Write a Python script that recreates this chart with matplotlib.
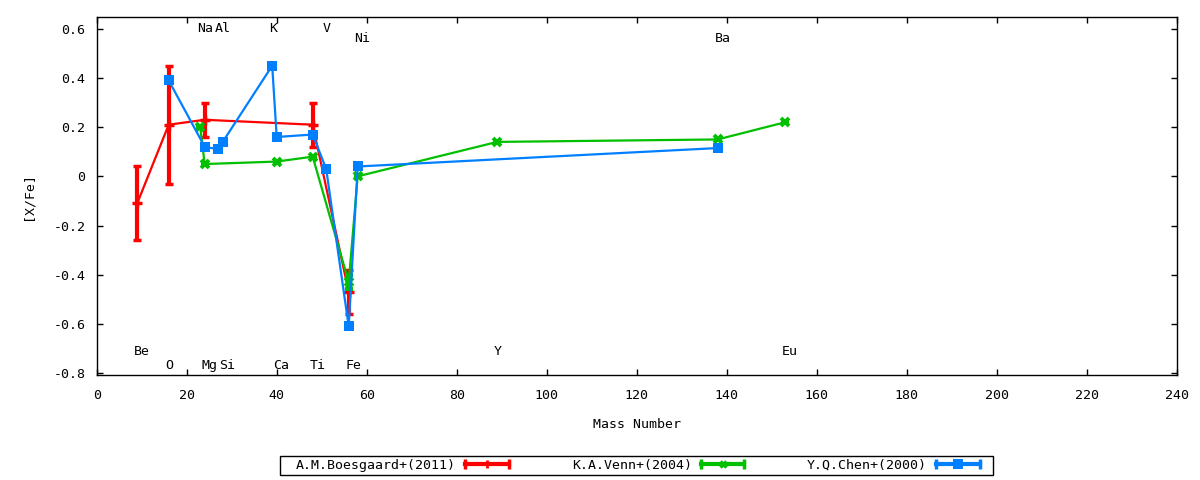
import numpy as np
import matplotlib
matplotlib.use("Agg")
import matplotlib.pyplot as plt
from matplotlib.lines import Line2D
from matplotlib.patches import Rectangle
from matplotlib.legend_handler import HandlerBase
from matplotlib.ticker import FuncFormatter

plt.rcParams['font.family'] = ['DejaVu Sans Mono']
plt.rcParams['font.size'] = 9.5

# element labels: name, mass number, row height
elements = ['Be', 'O', 'Na', 'Mg', 'Al', 'Si', 'K', 'Ca', 'Ti', 'V', 'Fe', 'Ni', 'Y', 'Ba', 'Eu']
elem_mass = [9, 16, 23, 24, 27, 28, 39, 40, 48, 51, 56, 58, 89, 138, 153]
elem_y = [-0.726, -0.783, 0.586, -0.783, 0.586, -0.783, 0.586, -0.783,
          -0.783, 0.586, -0.783, 0.545, -0.726, 0.545, -0.726]

# A.M.Boesgaard+(2011)
boes_mass = [9, 16, 24, 48, 56]
boes_xfe = [-0.11, 0.21, 0.23, 0.21, -0.47]
boes_err = [0.15, 0.24, 0.07, 0.09, 0.09]

# K.A.Venn+(2004)
venn_mass = [23, 24, 40, 48, 56, 58, 89, 138, 153]
venn_xfe = [0.20, 0.05, 0.06, 0.08, -0.43, 0.00, 0.14, 0.15, 0.22]
venn_err = [0, 0, 0, 0, 0.03, 0, 0, 0, 0]

# Y.Q.Chen+(2000)
chen_mass = [16, 24, 27, 28, 39, 40, 48, 51, 56, 58, 138]
chen_xfe = [0.39, 0.12, 0.11, 0.14, 0.45, 0.16, 0.17, 0.03, -0.61, 0.04, 0.115]

RED = '#ff0000'
GREEN = '#00c000'
BLUE = '#0080ff'

fig = plt.figure(figsize=(12, 4.8), dpi=100)
ax = fig.add_axes([96.7 / 1200, 1 - 375 / 480, 1080 / 1200, 358 / 480])

ax.errorbar(boes_mass, boes_xfe, yerr=boes_err, color=RED, lw=1.6,
            elinewidth=3, capsize=3, capthick=2.2,
            marker='+', ms=7, mew=2.5, zorder=3)
ax.errorbar(venn_mass, venn_xfe, yerr=venn_err, color=GREEN, lw=1.6,
            elinewidth=2.5, capsize=3, capthick=2,
            marker='x', ms=6, mew=2.8, zorder=4)
ax.plot(chen_mass, chen_xfe, color=BLUE, lw=1.6, marker='s', ms=7.5,
        mew=0, zorder=5)

for name, m, y in zip(elements, elem_mass, elem_y):
    ax.text(m - 0.7, y, name, ha='left', va='baseline', fontsize=9.5)

ax.set_xlim(0, 240)
ax.set_ylim(-0.808, 0.648)
ax.set_xticks(np.arange(0, 241, 20))
ax.set_yticks(np.arange(-0.8, 0.61, 0.2))
ax.yaxis.set_major_formatter(FuncFormatter(
    lambda v, p: '0' if abs(v) < 1e-9 else '%.1f' % v))
ax.tick_params(direction='in', length=4, width=1, top=True, right=True,
               labelsize=9.5)
ax.tick_params(axis='y', pad=8)
ax.tick_params(axis='x', pad=10)
for s in ax.spines.values():
    s.set_linewidth(1)

ax.set_xlabel('Mass Number', fontsize=9.5)
ax.set_ylabel('[X/Fe]', fontsize=9.5)
ax.xaxis.set_label_coords(0.5, -0.137)
ax.xaxis.label.set_va('center')
ax.yaxis.set_label_coords(-0.0635, 0.5)
ax.yaxis.label.set_va('center')


class ErrSample(HandlerBase):
    def create_artists(self, legend, orig_handle, xdescent, ydescent,
                       width, height, fontsize, trans):
        c = orig_handle.get_color()
        x0, x1 = -xdescent, width - xdescent
        y = height / 2 - ydescent
        bar = Line2D([x0, x1], [y, y], color=c, lw=3, transform=trans)
        caps = Line2D([x0, x1], [y, y], ls='none', marker='|', ms=7.5,
                      mew=2.5, color=c, transform=trans)
        pt = Line2D([(x0 + x1) / 2], [y], ls='none',
                    marker=orig_handle.get_marker(),
                    ms=orig_handle.get_markersize(),
                    mew=orig_handle.get_markeredgewidth(), color=c,
                    transform=trans)
        return [bar, caps, pt]


handles = [Line2D([], [], color=RED, marker='+', ms=6, mew=2),
           Line2D([], [], color=GREEN, marker='x', ms=5, mew=2.5),
           Line2D([], [], color=BLUE, marker='s', ms=7, mew=0)]
labels = ['A.M.Boesgaard+(2011)', 'K.A.Venn+(2004)', 'Y.Q.Chen+(2000)']
fig.legend(handles, labels, handler_map={Line2D: ErrSample()},
           loc='center', bbox_to_anchor=(0.5317, 0.031), ncol=3,
           frameon=False, markerfirst=False, borderpad=0, borderaxespad=0,
           handlelength=3.3, handletextpad=0.7, columnspacing=4.75,
           fontsize=9.5)
fig.patches.append(Rectangle((279.5 / 1200, 1 - 475 / 480), 713 / 1200,
                             19 / 480, transform=fig.transFigure,
                             fill=False, ec='black', lw=1))

fig.savefig('out.png', dpi=100)
